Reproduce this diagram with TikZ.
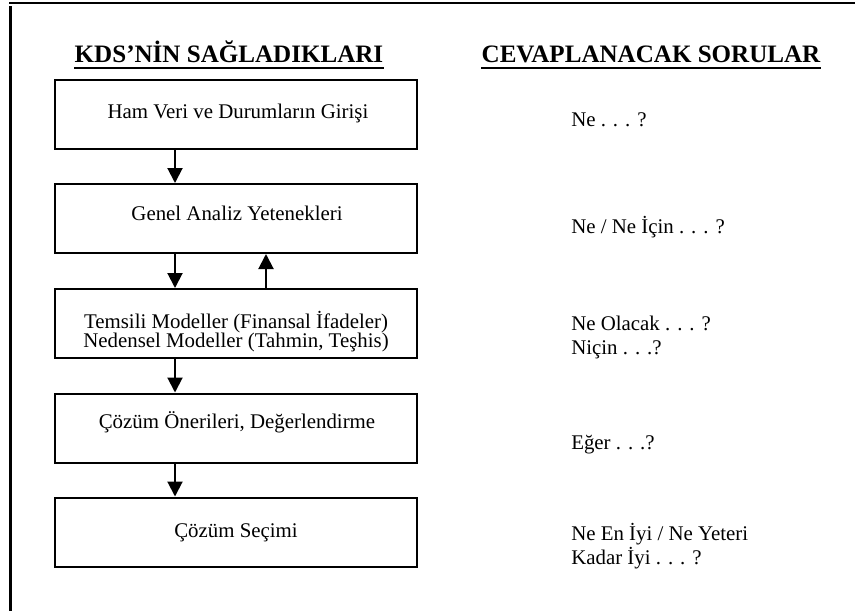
\documentclass[tikz,border=0pt]{standalone}
\usepackage{fontspec}
\setmainfont{Liberation Serif}
\usetikzlibrary{arrows.meta}
\begin{document}
\begin{tikzpicture}[x=0.75pt,y=-0.75pt,
  box/.style={draw, line width=1.5pt, minimum width=271.5pt, minimum height=51.75pt, inner sep=0pt},
  body/.style={anchor=base, inner sep=0pt, font=\fontsize{15.65}{18}\selectfont},
  ans/.style={body, anchor=base west},
  head/.style={anchor=base, inner sep=0pt, font=\fontsize{18.8}{22}\selectfont\bfseries},
  flow/.style={line width=1.5pt, -{Triangle[length=11.25pt,width=11.25pt]}},
  rule/.style={line width=1.5pt}]
\useasboundingbox (0,0) rectangle (855,611);

% page frame (top and left edges)
\draw[line width=1.8pt] (9,3) -- (855,3);
\draw[line width=1.6pt] (10.5,6) -- (10.5,611);

% column headings
\node[head] (h1) at (229,62) {KDS’NİN SAĞLADIKLARI};
\node[head] (h2) at (651,62) {CEVAPLANACAK SORULAR};
\coordinate (ul) at (0,67.5);
\draw[rule] (h1.west |- ul) -- (h1.east |- ul);
\draw[rule] (h2.west |- ul) -- (h2.east |- ul);

% process boxes
\node[box] (b1) at (236,114.5) {};
\node[box] (b2) at (236,218.5) {};
\node[box] (b3) at (236,323.5) {};
\node[box] (b4) at (236,428) {};
\node[box] (b5) at (236,532) {};

\node[body] (t1)  at (238,118) {Ham Veri ve Durumların Girişi};
\node[body] (t2)  at (237,220) {Genel Analiz Yetenekleri};
\node[body] (t3a) at (236,328) {Temsili Modeller (Finansal İfadeler)};
\node[body] (t3b) at (236,347) {Nedensel Modeller (Tahmin, Teşhis)};
\node[body] (t4)  at (237,428) {Çözüm Önerileri, Değerlendirme};
\node[body] (t5)  at (236,537) {Çözüm Seçimi};

% questions answered at each stage
\node[ans] (a1)  at (571,126) {Ne . . . ?};
\node[ans] (a2)  at (571,233) {Ne / Ne İçin . . . ?};
\node[ans] (a3a) at (571,330) {Ne Olacak . . . ?};
\node[ans] (a3b) at (571,354) {Niçin . . .?};
\node[ans] (a4)  at (571,449) {Eğer . . .?};
\node[ans] (a5a) at (571,540) {Ne En İyi / Ne Yeteri};
\node[ans] (a5b) at (571,564) {Kadar İyi . . . ?};

% flow arrows
\coordinate (cx) at (175,0);
\coordinate (cu) at (266,0);
\draw[flow] (b1.south -| cx) -- (b2.north -| cx);
\draw[flow] (b2.south -| cx) -- (b3.north -| cx);
\draw[flow] (b3.north -| cu) -- (b2.south -| cu);
\draw[flow] (b3.south -| cx) -- (b4.north -| cx);
\draw[flow] (b4.south -| cx) -- (b5.north -| cx);
\end{tikzpicture}
\end{document}
